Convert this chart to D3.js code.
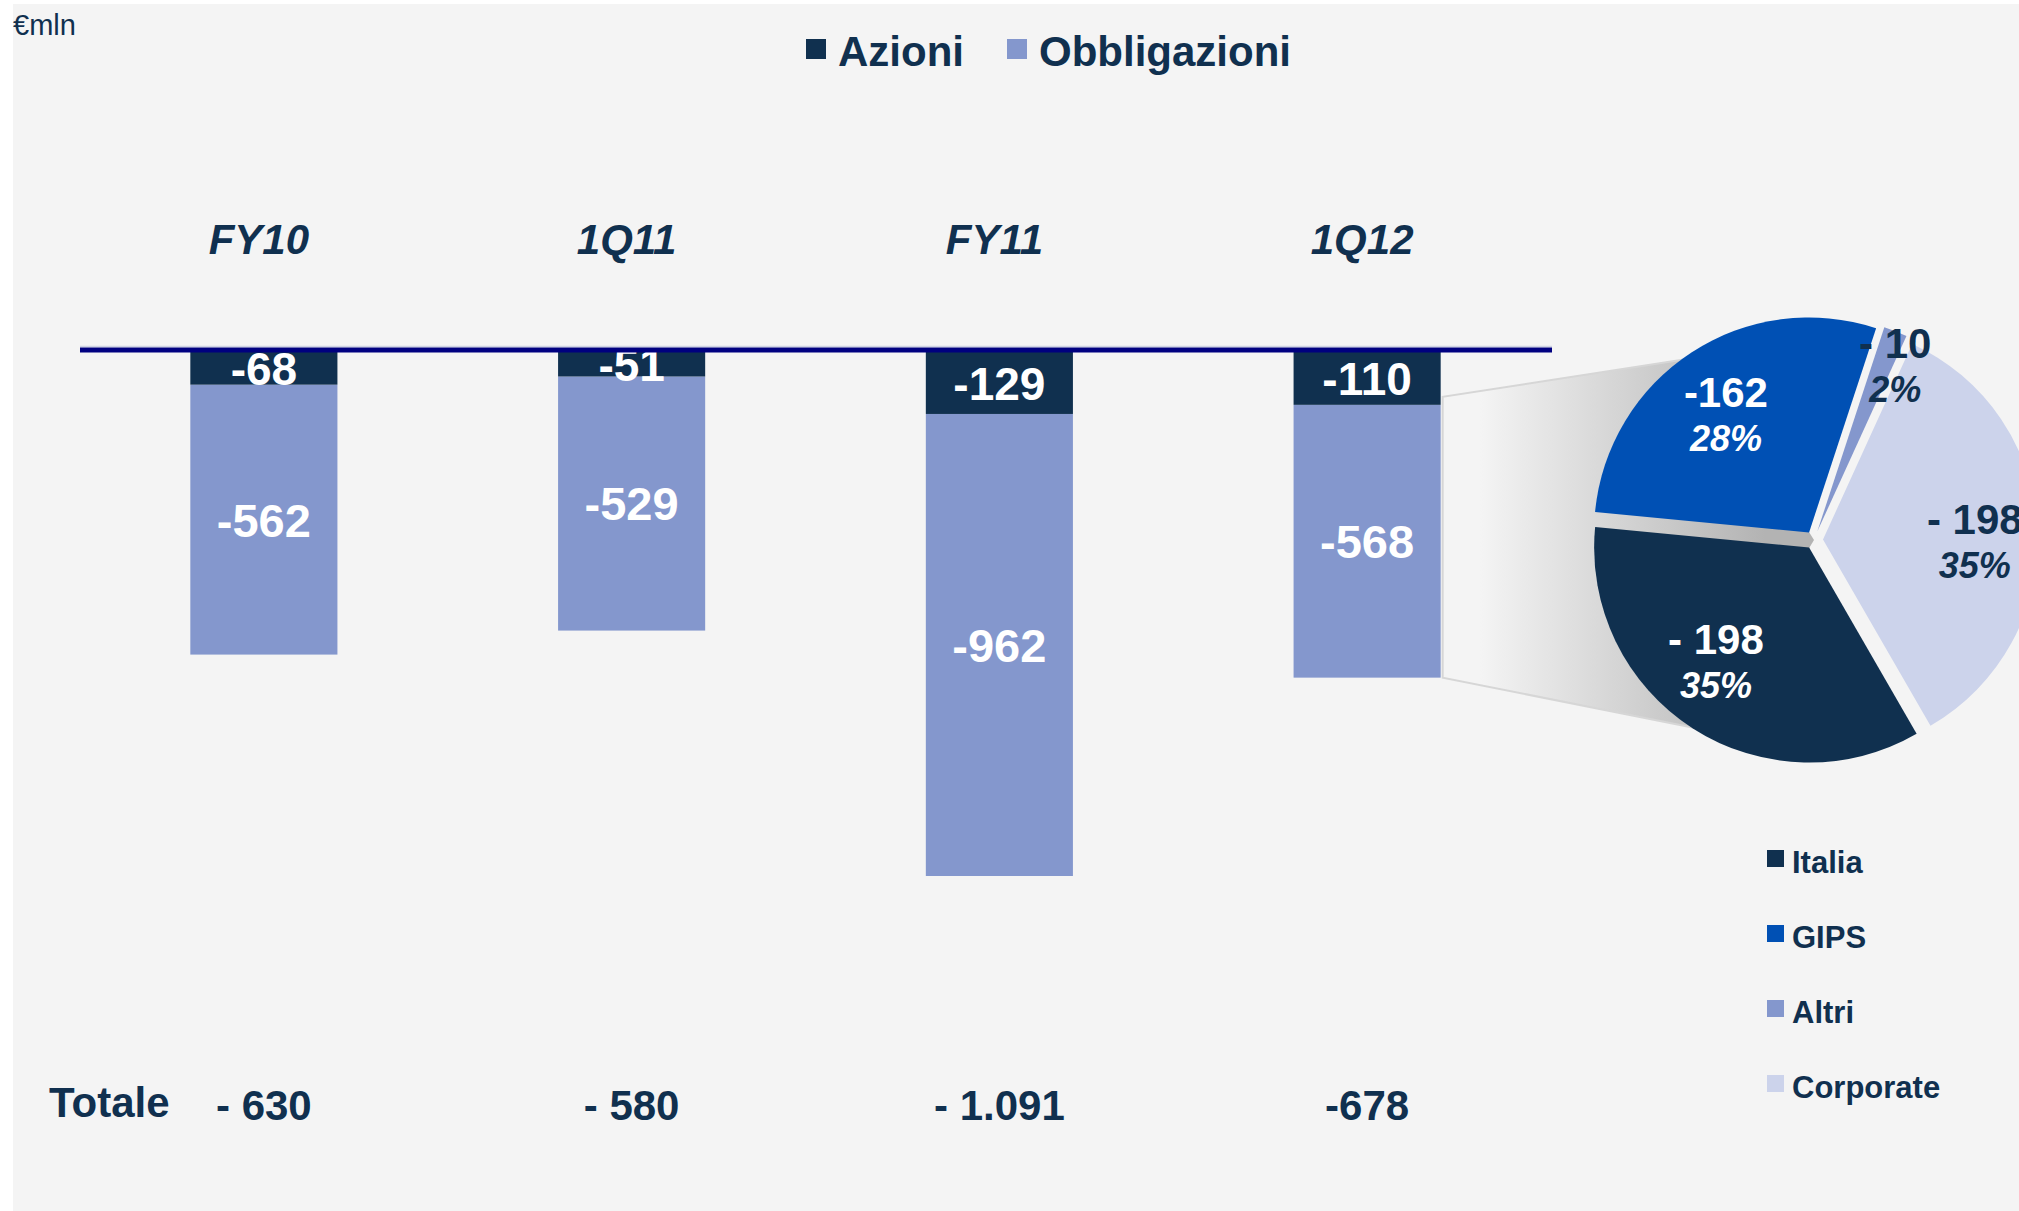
<!DOCTYPE html>
<meta charset="utf-8">
<style>
body { margin: 0; background: #fff; }
text { font-family: "Liberation Sans", Arial, sans-serif; }
</style>
<svg width="2019" height="1211"></svg>
<script src="https://d3js.org/d3.v7.min.js"></script>
<script>

  var categories = ['FY10', '1Q11', 'FY11', '1Q12'];
  var azioni = [-68, -51, -129, -110];
  var obbligazioni = [-562, -529, -962, -568];
  var totali = ['- 630', '- 580', '- 1.091', '-678'];

  var pieLabels = ['Italia', 'GIPS', 'Altri', 'Corporate'];
  var pieValues = [198, 162, 10, 198];
  var pieText = ['- 198', '-162', '- 10', '- 198'];
  var piePct = ['35%', '28%', '2%', '35%'];

  var navy = '#10304f',
      lilac = '#8497cd',
      colors = ['#10304f', '#0050b4', '#8497cd', '#ccd3eb'],
      pieInk = ['#fff', '#fff', navy, navy];

  var svg = d3.select('svg');

  // grey panel
  svg.append('rect')
    .attr('x', 13).attr('y', 4)
    .attr('width', 2006).attr('height', 1207)
    .attr('fill', '#f4f4f4');

  svg.append('text')
    .attr('x', 13).attr('y', 35)
    .attr('font-size', 29)
    .attr('fill', navy)
    .text('€mln');

  // top legend
  var legend = [
    { name: 'Azioni', color: navy, x: 806 },
    { name: 'Obbligazioni', color: lilac, x: 1007 }
  ];
  var lg = svg.selectAll('.lg').data(legend).enter().append('g');
  lg.append('rect')
    .attr('x', function(d) { return d.x; })
    .attr('y', 39).attr('width', 20).attr('height', 20)
    .attr('fill', function(d) { return d.color; });
  lg.append('text')
    .attr('x', function(d) { return d.x + 32; })
    .attr('y', 66)
    .attr('font-size', 42).attr('font-weight', 'bold')
    .attr('fill', navy)
    .text(function(d) { return d.name; });

  // scales
  var x = d3.scaleBand()
    .domain(categories)
    .range([80, 1551])
    .paddingInner(0.6)
    .paddingOuter(0.3);

  var y = d3.scaleLinear()
    .domain([0, -1091])
    .range([352, 876]);

  var rows = categories.map(function(c, i) {
    return { cat: c, az: azioni[i], ob: obbligazioni[i], tot: totali[i] };
  });

  // category labels
  svg.selectAll('.cat').data(rows).enter().append('text')
    .attr('x', function(d) { return x(d.cat) + x.bandwidth() / 2 - 5; })
    .attr('y', 254)
    .attr('text-anchor', 'middle')
    .attr('font-size', 42).attr('font-weight', 'bold').attr('font-style', 'italic')
    .attr('fill', navy)
    .text(function(d) { return d.cat; });

  // connector from 1Q12 bonds to the pie
  var last = rows[3];
  var xr = x(last.cat) + x.bandwidth();
  var grad = svg.append('defs').append('linearGradient')
    .attr('id', 'shade').attr('gradientUnits', 'userSpaceOnUse')
    .attr('x1', 1480).attr('x2', 1765).attr('y1', 0).attr('y2', 0);
  grad.append('stop').attr('offset', 0).attr('stop-color', '#f4f4f4');
  grad.append('stop').attr('offset', 1).attr('stop-color', '#b3b3b3');

  var cx = 1814, cy = 540, r = 215;
  var topY = y(last.az) - 8, botY = y(last.az + last.ob);
  svg.append('path')
    .attr('d', 'M' + (xr + 2) + ',' + topY + ' L1700,357 L' + cx + ',' + cy +
               ' L1700,729 L' + (xr + 2) + ',' + botY + 'Z')
    .attr('fill', 'url(#shade)');
  svg.append('path')
    .attr('d', 'M1700,357 L' + (xr + 2) + ',' + topY + ' L' + (xr + 2) + ',' + botY + ' L1700,729')
    .attr('fill', 'none')
    .attr('stroke', '#d6d6d6').attr('stroke-width', 2);

  // bars
  var bars = svg.selectAll('.bar').data(rows).enter().append('g');
  bars.append('rect')
    .attr('x', function(d) { return x(d.cat); })
    .attr('y', function(d) { return y(d.az); })
    .attr('width', x.bandwidth())
    .attr('height', function(d) { return y(d.az + d.ob) - y(d.az); })
    .attr('fill', lilac);
  bars.append('rect')
    .attr('x', function(d) { return x(d.cat); })
    .attr('y', y(0))
    .attr('width', x.bandwidth())
    .attr('height', function(d) { return y(d.az) - y(0); })
    .attr('fill', navy);

  bars.append('text')
    .attr('x', function(d) { return x(d.cat) + x.bandwidth() / 2; })
    .attr('y', function(d) { return (y(0) + y(d.az)) / 2; })
    .attr('dy', '0.36em')
    .attr('text-anchor', 'middle')
    .attr('font-size', 46).attr('font-weight', 'bold')
    .attr('fill', '#fff')
    .text(function(d) { return d.az; });
  bars.append('text')
    .attr('x', function(d) { return x(d.cat) + x.bandwidth() / 2; })
    .attr('y', function(d) { return (y(d.az) + y(d.az + d.ob)) / 2; })
    .attr('dy', '0.36em')
    .attr('text-anchor', 'middle')
    .attr('font-size', 47).attr('font-weight', 'bold')
    .attr('fill', '#fff')
    .text(function(d) { return d.ob; });

  // zero line
  svg.append('line')
    .attr('x1', 80).attr('x2', 1552).attr('y1', 346.5).attr('y2', 346.5)
    .attr('stroke', '#cfd4e4').attr('stroke-width', 1.5);
  svg.append('line')
    .attr('x1', 80).attr('x2', 1552).attr('y1', 350).attr('y2', 350)
    .attr('stroke', '#000080').attr('stroke-width', 5);

  // totals
  svg.append('text')
    .attr('x', 49).attr('y', 1117)
    .attr('font-size', 42).attr('font-weight', 'bold')
    .attr('fill', navy)
    .text('Totale');
  svg.selectAll('.tot').data(rows).enter().append('text')
    .attr('x', function(d) { return x(d.cat) + x.bandwidth() / 2; })
    .attr('y', 1120)
    .attr('text-anchor', 'middle')
    .attr('font-size', 42).attr('font-weight', 'bold')
    .attr('fill', navy)
    .text(function(d) { return d.tot; });

  // pie of the 1Q12 bonds
  var pie = d3.pie().sort(null)
    .startAngle(150 * Math.PI / 180)
    .endAngle(510 * Math.PI / 180);
  var arcs = pie(pieValues);
  var arc = d3.arc().innerRadius(0).outerRadius(r);
  var explode = 9;

  function shift(d) {
    var a = (d.startAngle + d.endAngle) / 2;
    return [explode * Math.sin(a), -explode * Math.cos(a)];
  }

  var pg = svg.append('g')
    .attr('transform', 'translate(' + cx + ',' + cy + ')');
  pg.selectAll('path').data(arcs).enter().append('path')
    .attr('transform', function(d) { return 'translate(' + shift(d) + ')'; })
    .attr('d', arc)
    .attr('fill', function(d, i) { return colors[i]; });

  // label placement: radius and small angle tweak per slice
  var labR = [140, 152, 192, 152],
      labTurn = [9, 0, 2.6, 0];
  var labs = pg.selectAll('g.lab').data(arcs).enter().append('g')
    .attr('transform', function(d, i) {
      var a = (d.startAngle + d.endAngle) / 2 + labTurn[i] * Math.PI / 180;
      var s = shift(d);
      return 'translate(' + (s[0] + labR[i] * Math.sin(a)) + ',' +
                            (s[1] - labR[i] * Math.cos(a)) + ')';
    });
  labs.append('text')
    .attr('y', 2)
    .attr('text-anchor', 'middle')
    .attr('font-size', 42).attr('font-weight', 'bold')
    .attr('fill', function(d, i) { return pieInk[i]; })
    .text(function(d, i) { return pieText[i]; });
  labs.append('text')
    .attr('y', 46)
    .attr('text-anchor', 'middle')
    .attr('font-size', 36).attr('font-weight', 'bold').attr('font-style', 'italic')
    .attr('fill', function(d, i) { return pieInk[i]; })
    .text(function(d, i) { return piePct[i]; });

  // pie legend
  var pl = svg.selectAll('.pl').data(pieLabels).enter().append('g')
    .attr('transform', function(d, i) { return 'translate(1767,' + (873 + i * 75) + ')'; });
  pl.append('rect')
    .attr('x', 0).attr('y', -23).attr('width', 17).attr('height', 17)
    .attr('fill', function(d, i) { return colors[i]; });
  pl.append('text')
    .attr('x', 25).attr('y', 0)
    .attr('font-size', 31).attr('font-weight', 'bold')
    .attr('fill', navy)
    .text(function(d) { return d; });
</script>
